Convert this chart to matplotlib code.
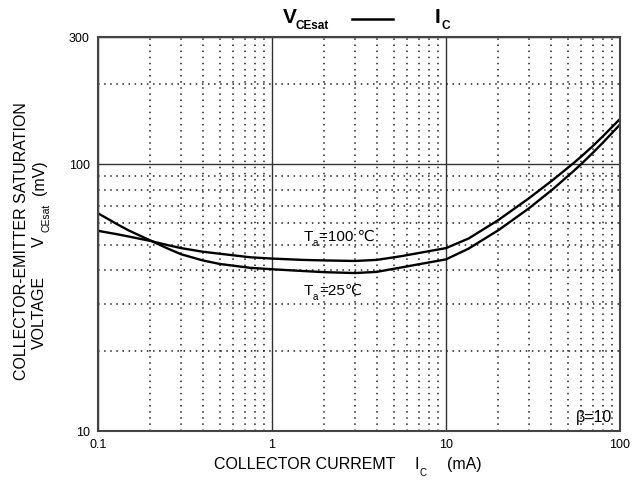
import matplotlib
matplotlib.use('Agg')
from matplotlib import pyplot as plt
from matplotlib.lines import Line2D
from matplotlib.ticker import NullFormatter

plt.rcParams['font.family'] = ['Liberation Sans', 'DejaVu Sans']

# collector current (mA)
ic = [0.1, 0.13, 0.15, 0.2, 0.25, 0.3, 0.4, 0.5, 0.75, 1, 1.5, 2, 3, 4, 5.5, 7, 10,
      13.5, 20, 30, 41, 54, 60, 70, 80, 100]
# VCEsat (mV)
vce_25 = [65.5, 59.4, 56.5, 51.8, 48.4, 46.0, 43.6, 42.3, 40.9, 40.4, 39.8, 39.4,
          39.1, 39.5, 41.0, 42.2, 44.0, 48.3, 56.6, 68.4, 80.5, 94.2, 100.3, 110.6,
          120.8, 140.9]
vce_100 = [56.3, 54.6, 53.6, 51.6, 49.8, 48.5, 47.0, 46.2, 44.8, 44.3, 43.8, 43.6,
           43.4, 43.8, 45.2, 46.5, 48.5, 52.7, 61.8, 74.6, 87.2, 100.9, 107.0, 117.3,
           127.6, 147.9]

y_ticks = [10, 100, 300]
x_ticks = [0.1, 1, 10, 100]


def fx(px):
    return px / 641.0


def fy(py):
    return 1 - py / 482.0


fig = plt.figure(figsize=(6.41, 4.82), dpi=100)
ax = fig.add_axes([fx(98), fy(431), fx(620) - fx(98), fy(37) - fy(431)])

ax.plot(ic, vce_25, color='black', lw=1.7)
ax.plot(ic, vce_100, color='black', lw=1.7)

ax.set_xscale('log')
ax.set_yscale('log')
ax.set_xlim(0.1, 100)
ax.set_ylim(10, 300)
ax.set_xticks(x_ticks)
ax.set_xticklabels(['0.1', '1', '10', '100'])
ax.set_yticks(y_ticks)
ax.set_yticklabels([str(v) for v in y_ticks])
ax.xaxis.set_minor_formatter(NullFormatter())
ax.yaxis.set_minor_formatter(NullFormatter())
ax.tick_params(which='both', length=0, labelsize=9)
ax.tick_params(axis='x', pad=6)
ax.tick_params(axis='y', pad=6)

ax.grid(which='major', ls='-', color='#333333', lw=1.0)
ax.grid(which='minor', ls=(0, (1, 3)), color='#222222', lw=1.1)
for s in ax.spines.values():
    s.set_color('#444444')
    s.set_linewidth(1.5)

# title
fig.text(fx(283), fy(23), 'V', fontsize=15, fontweight='bold', va='baseline')
fig.text(fx(296), fy(29), 'CEsat', fontsize=8.5, fontweight='bold', va='baseline')
fig.add_artist(Line2D([fx(352), fx(393)], [fy(19), fy(19)], color='black', lw=1.8))
fig.text(fx(435), fy(23), 'I', fontsize=15, fontweight='bold', va='baseline')
fig.text(fx(441), fy(29), 'C', fontsize=8.5, fontweight='bold', va='baseline')

# x label
fig.text(fx(214), fy(469), 'COLLECTOR CURREMT', fontsize=11.5, va='baseline')
fig.text(fx(414), fy(469), 'I', fontsize=11.5, va='baseline')
fig.text(fx(420), fy(476), 'C', fontsize=7, va='baseline')
fig.text(fx(447), fy(469), '(mA)', fontsize=11.5, va='baseline')

# y label
fig.text(fx(29), fy(241), 'COLLECTOR-EMITTER SATURATION', fontsize=11.5,
         rotation=90, ha='right', va='center')
fig.text(fx(47), fy(312), 'VOLTAGE', fontsize=11.5, rotation=90, ha='right', va='center')
fig.text(fx(47), fy(242), 'V', fontsize=11.5, rotation=90, ha='right', va='center')
fig.text(fx(41), fy(218), 'CEsat', fontsize=7.5, rotation=90, ha='left', va='center')
fig.text(fx(47), fy(178), '(mV)', fontsize=11.5, rotation=90, ha='right', va='center')

# curve labels
fig.text(fx(304), fy(241), 'T', fontsize=11, va='baseline')
fig.text(fx(313), fy(246), 'a', fontsize=7, va='baseline')
fig.text(fx(319), fy(241), '=100 \u2103', fontsize=11, va='baseline')
fig.text(fx(304), fy(295), 'T', fontsize=11, va='baseline')
fig.text(fx(313), fy(300), 'a', fontsize=7, va='baseline')
fig.text(fx(319), fy(295), '=25\u2103', fontsize=11, va='baseline')

fig.text(fx(576), fy(422), '\u03b2=10', fontsize=11.5, va='baseline')

fig.savefig('out.png', dpi=100)
